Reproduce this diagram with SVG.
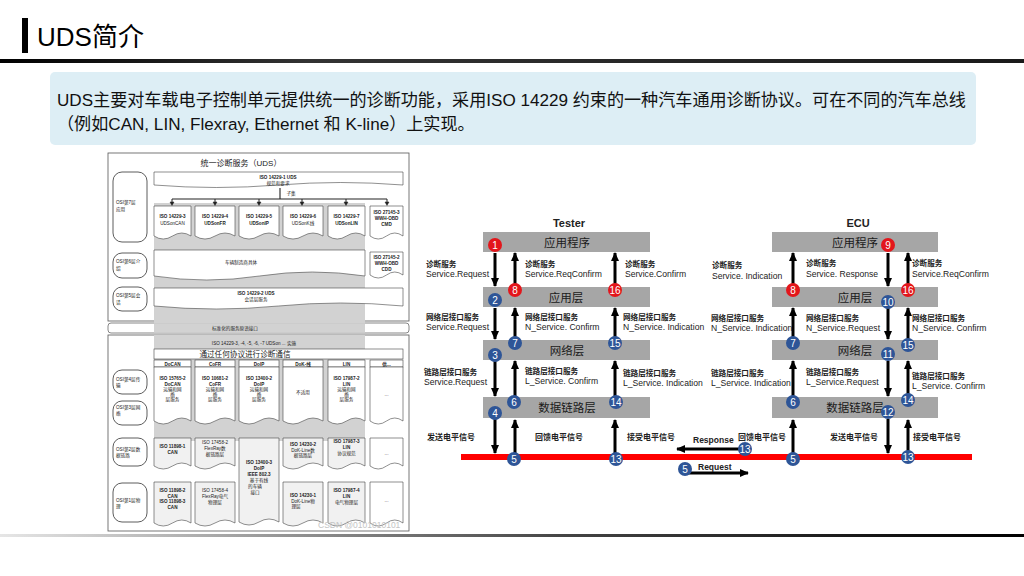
<svg xmlns="http://www.w3.org/2000/svg" width="1024" height="576" viewBox="0 0 1024 576">
<defs>
<linearGradient id="gTop" x1="0" y1="0" x2="1" y2="0"><stop offset="0" stop-color="#000"/><stop offset="0.3" stop-color="#333"/><stop offset="1" stop-color="#1a1a1a"/></linearGradient>
<linearGradient id="gBot" x1="0" y1="0" x2="1" y2="0"><stop offset="0" stop-color="#e6e6e6"/><stop offset="0.55" stop-color="#444"/><stop offset="1" stop-color="#000"/></linearGradient>
<marker id="ah" viewBox="0 0 10 10" refX="9" refY="5" markerWidth="9" markerHeight="9" markerUnits="userSpaceOnUse" orient="auto"><path d="M0,0.5 L10,5 L0,9.5 z" fill="#000"/></marker>
<style>
text{font-family:'Liberation Sans','Noto Sans CJK SC',sans-serif;}
.box{fill:#A6A6A6;}
.boxt{font-size:11.5px;fill:#1a1a1a;text-anchor:middle;}
.zh{font-size:7.6px;fill:#222;font-weight:bold;}
.en{font-size:8.6px;fill:#222;}
.sig{font-size:8px;fill:#222;font-weight:bold;}
.red{fill:#E3161B;}
.blue{fill:#2E5597;}
.num{font-size:10px;fill:#fff;text-anchor:middle;}
.arr{stroke:#000;stroke-width:3;fill:none;marker-end:url(#ah);}
.lt{font-size:4.6px;fill:#222;text-anchor:middle;}
.lb{font-weight:bold;}
.ll{font-size:4.6px;fill:#222;}
.doc{fill:#fff;stroke:#444;stroke-width:0.6;}
.docg{fill:#F1F1F1;stroke:#444;stroke-width:0.6;}
.osi{fill:#fff;stroke:#333;stroke-width:0.8;}
.grey{fill:#D2D2D2;}
.thin{stroke:#222;stroke-width:1.1;fill:none;}
</style>
</defs>
<rect width="1024" height="576" fill="#fff"/>

<g id="title">
<rect x="22" y="18" width="6" height="35" fill="#000"/>
<text x="37" y="46" font-size="26" fill="#000">UDS简介</text>
<rect x="0" y="59" width="1024" height="4" fill="url(#gTop)"/>
</g>

<g id="intro">
<rect x="50" y="72" width="926" height="73" rx="5" fill="#DDEEF5"/>
<text x="57" y="106" font-size="17.1" fill="#111">UDS主要对车载电子控制单元提供统一的诊断功能，采用ISO 14229 约束的一种汽车通用诊断协议。可在不同的汽车总线</text>
<text x="57" y="130" font-size="17.1" fill="#111">（例如CAN, LIN, Flexray, Ethernet 和 K-line）上实现。</text>
</g>

<g id="osi-figure">
<rect x="108" y="153" width="301" height="168" fill="#fff" stroke="#555" stroke-width="0.8"/>
<rect class="grey" x="154" y="203" width="211" height="120"/>
<text x="241" y="166" font-size="8" fill="#222" text-anchor="middle">统一诊断服务（UDS）</text>
<path class="doc" d="M154,172h249v13q-62.25,-5,-124.5,0t-124.5,0z"/>
<text class="lt lb" x="278" y="178.5">ISO 14229-1 UDS</text>
<text class="lt" x="278" y="184.5">规范和要求</text>
<path class="thin" d="M280,188V199M172,199H387"/>
<text class="lt" x="291" y="195">子集</text>
<g fill="#222" stroke="#222" stroke-width="1">
<path d="M172,199V202M215,199V202M259,199V202M302,199V202M346,199V202M387,199V202"/>
<path d="M170,202h4l-2,3.5zM213,202h4l-2,3.5zM257,202h4l-2,3.5zM300,202h4l-2,3.5zM344,202h4l-2,3.5zM385,202h4l-2,3.5z" stroke-width="0.5"/>
</g>
<path class="doc" d="M154,206h37v30q-9.25,-6,-18.5,0t-18.5,0z"/>
<path class="doc" d="M195,206h40v30q-10,-6,-20,0t-20,0z"/>
<path class="doc" d="M239,206h40v30q-10,-6,-20,0t-20,0z"/>
<path class="doc" d="M283,206h40v30q-10,-6,-20,0t-20,0z"/>
<path class="doc" d="M328,206h37v30q-9.25,-6,-18.5,0t-18.5,0z"/>
<path class="doc" d="M370,206h33v30q-8.25,-6,-16.5,0t-16.5,0z"/>
<text class="lt lb" x="172.5" y="218">ISO 14229-3</text><text class="lt" x="172.5" y="225">UDSonCAN</text>
<text class="lt lb" x="215" y="218">ISO 14229-4</text><text class="lt lb" x="215" y="225">UDSonFR</text>
<text class="lt lb" x="259" y="218">ISO 14229-5</text><text class="lt lb" x="259" y="225">UDSonIP</text>
<text class="lt lb" x="303" y="218">ISO 14229-6</text><text class="lt" x="303" y="225">UDSonK线</text>
<text class="lt lb" x="346.5" y="218">ISO 14229-7</text><text class="lt lb" x="346.5" y="225">UDSonLIN</text>
<text class="lt lb" x="386.5" y="214">ISO 27145-3</text><text class="lt lb" x="386.5" y="220">WWH-OBD</text><text class="lt lb" x="386.5" y="226">CMD</text>
<path class="doc" d="M154,250h211v26q-52.75,-8,-105.5,0t-105.5,0z"/>
<text class="lt" x="241" y="264">车辆制造商具体</text>
<path class="doc" d="M370,252h33v23q-8.25,-6,-16.5,0t-16.5,0z"/>
<text class="lt lb" x="386.5" y="259">ISO 27145-2</text><text class="lt lb" x="386.5" y="265">WWH-OBD</text><text class="lt lb" x="386.5" y="271">CDD</text>
<path class="doc" d="M154,288h249v18q-62.25,-6,-124.5,0t-124.5,0z"/>
<text class="lt lb" x="256" y="295">ISO 14229-2 UDS</text>
<text class="lt" x="256" y="301">会话层服务</text>
<rect class="osi" x="113" y="172" width="34" height="70" rx="9"/>
<text class="ll" x="116" y="204">OSI第7层</text><text class="ll" x="116" y="211">应用</text>
<rect class="osi" x="113" y="253" width="34" height="25" rx="9"/>
<text class="ll" x="116" y="263">OSI第6层介</text><text class="ll" x="116" y="270">绍</text>
<rect class="osi" x="113" y="287" width="34" height="24" rx="9"/>
<text class="ll" x="116" y="297">OSI第5层会</text><text class="ll" x="116" y="304">话</text>

<rect x="108" y="323" width="301" height="10" rx="3" fill="#fff" stroke="#555" stroke-width="0.7"/>
<rect class="grey" x="154" y="320" width="211" height="3"/>
<rect class="grey" x="154" y="323.4" width="211" height="9.2"/>
<text class="lt" x="235" y="330">标准化的服务原语接口</text>
<rect x="108" y="335" width="301" height="196" fill="#fff" stroke="#555" stroke-width="0.8"/>
<rect class="grey" x="154" y="335" width="211" height="106"/>
<text class="lt" x="254" y="344.5" font-size="4.2">ISO 14229-3, -4, -5, -6, -7 UDSon ... 实施</text>
<rect x="154" y="349" width="249" height="10" fill="#fff" stroke="#444" stroke-width="0.6"/>
<text x="245" y="357" font-size="7.6" fill="#222" text-anchor="middle">通过任何协议进行诊断通信</text>
<g>
<rect class="doc" x="154" y="360" width="37" height="7"/>
<rect class="doc" x="195" y="360" width="40" height="7"/>
<rect class="doc" x="239" y="360" width="40" height="7"/>
<rect class="doc" x="283" y="360" width="40" height="7"/>
<rect class="doc" x="328" y="360" width="37" height="7"/>
<rect class="doc" x="370" y="360" width="33" height="7"/>
<text class="lt lb" x="172.5" y="365.5" font-size="5.6">DoCAN</text>
<text class="lt lb" x="215" y="365.5" font-size="5.6">CoFR</text>
<text class="lt lb" x="259" y="365.5" font-size="5.6">DoIP</text>
<text class="lt lb" x="303" y="365.5" font-size="5.6">DoK-线</text>
<text class="lt lb" x="346.5" y="365.5" font-size="5.6">LIN</text>
<text class="lt lb" x="386.5" y="365.5" font-size="5.6">供...</text>
</g>
<path class="doc" d="M154,367h37v54q-9.25,-6,-18.5,0t-18.5,0z"/>
<path class="doc" d="M195,367h40v54q-10,-6,-20,0t-20,0z"/>
<path class="doc" d="M239,367h40v54q-10,-6,-20,0t-20,0z"/>
<path class="doc" d="M283,367h40v54q-10,-6,-20,0t-20,0z"/>
<path class="doc" d="M328,367h37v54q-9.25,-6,-18.5,0t-18.5,0z"/>
<path class="doc" d="M370,367h33v54q-8.25,-6,-16.5,0t-16.5,0z"/>
<text class="lt lb" x="172.5" y="380">ISO 15765-2</text><text class="lt lb" x="172.5" y="385.5">DoCAN</text><text class="lt" x="172.5" y="391">运输和网</text><text class="lt" x="172.5" y="396">络</text><text class="lt" x="172.5" y="401">层服务</text>
<text class="lt lb" x="215" y="380">ISO 10681-2</text><text class="lt lb" x="215" y="385.5">CoFR</text><text class="lt" x="215" y="391">运输和网</text><text class="lt" x="215" y="396">络</text><text class="lt" x="215" y="401">层服务</text>
<text class="lt lb" x="259" y="380">ISO 13400-2</text><text class="lt lb" x="259" y="385.5">DoIP</text><text class="lt" x="259" y="391">运输和网</text><text class="lt" x="259" y="396">络</text><text class="lt" x="259" y="401">层服务</text>
<text class="lt" x="303" y="394">不适用</text>
<text class="lt lb" x="346.5" y="380">ISO 17987-2</text><text class="lt lb" x="346.5" y="385.5">LIN</text><text class="lt" x="346.5" y="391">运输和网</text><text class="lt" x="346.5" y="396">络</text><text class="lt" x="346.5" y="401">层服务</text>
<text class="lt" x="386.5" y="396">...</text>
<path class="docg" d="M154,438h37v28q-9.25,-6,-18.5,0t-18.5,0z"/>
<path class="docg" d="M195,438h40v28q-10,-6,-20,0t-20,0z"/>
<path class="docg" d="M239,438h40v84q-10,-6,-20,0t-20,0z"/>
<path class="docg" d="M283,438h40v28q-10,-6,-20,0t-20,0z"/>
<path class="docg" d="M328,438h37v28q-9.25,-6,-18.5,0t-18.5,0z"/>
<path class="doc" d="M370,438h33v28q-8.25,-6,-16.5,0t-16.5,0z"/>
<text class="lt lb" x="172.5" y="448">ISO 11898-1</text><text class="lt lb" x="172.5" y="454">CAN</text>
<text class="lt" x="215" y="444">ISO 17458-2</text><text class="lt" x="215" y="450">FlexRay数</text><text class="lt" x="215" y="456">据链路层</text>
<text class="lt lb" x="259" y="464">ISO 13400-3</text><text class="lt lb" x="259" y="470">DoIP</text><text class="lt lb" x="259" y="476">IEEE 802.3</text><text class="lt" x="259" y="482">基于有线</text><text class="lt" x="255" y="488">的车辆</text><text class="lt" x="255" y="494">接口</text>
<text class="lt lb" x="303" y="446">ISO 14230-2</text><text class="lt" x="303" y="451.5">DoK-Line数</text><text class="lt" x="303" y="457">据链路层</text>
<text class="lt lb" x="346.5" y="443">ISO 17987-3</text><text class="lt lb" x="346.5" y="449">LIN</text><text class="lt" x="346.5" y="455">协议规范</text>
<text class="lt" x="386.5" y="455">...</text>
<path class="docg" d="M154,482h37v41q-9.25,-6,-18.5,0t-18.5,0z"/>
<path class="docg" d="M195,482h40v41q-10,-6,-20,0t-20,0z"/>
<path class="docg" d="M283,482h40v41q-10,-6,-20,0t-20,0z"/>
<path class="docg" d="M328,482h37v41q-9.25,-6,-18.5,0t-18.5,0z"/>
<path class="doc" d="M370,482h33v41q-8.25,-6,-16.5,0t-16.5,0z"/>
<text class="lt lb" x="172.5" y="492">ISO 11898-2</text><text class="lt lb" x="172.5" y="497.5">CAN</text><text class="lt lb" x="172.5" y="503">ISO 11898-3</text><text class="lt lb" x="172.5" y="508.5">CAN</text>
<text class="lt" x="215" y="492">ISO 17458-4</text><text class="lt" x="215" y="498">FlexRay电气</text><text class="lt" x="215" y="503.5">物理层</text>
<text class="lt lb" x="303" y="497">ISO 14230-1</text><text class="lt" x="303" y="502.5">DoK-Line物</text><text class="lt" x="296" y="508">理层</text>
<text class="lt lb" x="346.5" y="492">ISO 17987-4</text><text class="lt lb" x="346.5" y="498">LIN</text><text class="lt" x="346.5" y="503.5">电气物理层</text>
<text class="lt" x="386.5" y="502">...</text>
<rect class="osi" x="113" y="370" width="34" height="24" rx="9"/>
<text class="ll" x="116" y="381">OSI第4层传</text><text class="ll" x="116" y="387">输</text>
<rect class="osi" x="113" y="401" width="34" height="24" rx="9"/>
<text class="ll" x="116" y="409">OSI第3层网</text><text class="ll" x="116" y="415">络</text>
<rect class="osi" x="113" y="438" width="34" height="28" rx="9"/>
<text class="ll" x="116" y="451">OSI第2层数</text><text class="ll" x="116" y="457">据链路</text>
<rect class="osi" x="113" y="483" width="34" height="39" rx="9"/>
<text class="ll" x="116" y="502">OSI第1层物</text><text class="ll" x="116" y="508">理</text>
<text x="318" y="528" font-size="8.5" fill="#c4c4c4">CSDN @0101010101</text>
</g>

<g id="tester">
<text x="569" y="227" font-size="11" font-weight="bold" fill="#222" text-anchor="middle">Tester</text>
<rect class="box" x="483" y="232" width="167" height="20"/><text class="boxt" x="567" y="247">应用程序</text>
<rect class="box" x="483" y="287" width="167" height="20"/><text class="boxt" x="566" y="302">应用层</text>
<rect class="box" x="483" y="340" width="167" height="20"/><text class="boxt" x="567" y="355">网络层</text>
<rect class="box" x="483" y="397" width="167" height="21"/><text class="boxt" x="567" y="412">数据链路层</text>
</g>

<g id="ecu">
<text x="858" y="227" font-size="11" font-weight="bold" fill="#222" text-anchor="middle">ECU</text>
<rect class="box" x="772" y="232" width="166" height="20"/><text class="boxt" x="855" y="247">应用程序</text>
<rect class="box" x="772" y="287" width="166" height="20"/><text class="boxt" x="855" y="302">应用层</text>
<rect class="box" x="772" y="340" width="166" height="20"/><text class="boxt" x="855" y="355">网络层</text>
<rect class="box" x="772" y="397" width="166" height="21"/><text class="boxt" x="855" y="412">数据链路层</text>
</g>

<g id="bus">
<rect x="461" y="454" width="511" height="6" fill="#FF0000"/>
</g>

<g id="connectors">
<line class="arr" x1="495" y1="253" x2="495" y2="286"/>
<line class="arr" x1="515" y1="286" x2="515" y2="253"/>
<line class="arr" x1="615" y1="286" x2="615" y2="253"/>
<line class="arr" x1="495" y1="308" x2="495" y2="339"/>
<line class="arr" x1="515" y1="340" x2="515" y2="308"/>
<line class="arr" x1="615" y1="340" x2="615" y2="308"/>
<line class="arr" x1="495" y1="361" x2="495" y2="396"/>
<line class="arr" x1="515" y1="397" x2="515" y2="361"/>
<line class="arr" x1="615" y1="397" x2="615" y2="361"/>
<line class="arr" x1="495" y1="419" x2="495" y2="453"/>
<line class="arr" x1="515" y1="455" x2="515" y2="420"/>
<line class="arr" x1="615" y1="455" x2="615" y2="420"/>
<line class="arr" x1="793" y1="287" x2="793" y2="253"/>
<line class="arr" x1="888" y1="253" x2="888" y2="286"/>
<line class="arr" x1="908" y1="287" x2="908" y2="253"/>
<line class="arr" x1="793" y1="340" x2="793" y2="308"/>
<line class="arr" x1="888" y1="308" x2="888" y2="339"/>
<line class="arr" x1="908" y1="340" x2="908" y2="308"/>
<line class="arr" x1="793" y1="397" x2="793" y2="361"/>
<line class="arr" x1="888" y1="361" x2="888" y2="396"/>
<line class="arr" x1="908" y1="397" x2="908" y2="361"/>
<line class="arr" x1="793" y1="455" x2="793" y2="420"/>
<line class="arr" x1="888" y1="419" x2="888" y2="453"/>
<line class="arr" x1="908" y1="455" x2="908" y2="420"/>
<line class="arr" x1="745" y1="449" x2="677" y2="449"/>
<line class="arr" x1="685" y1="473" x2="748" y2="473"/>
</g>

<g id="labels">
<text class="zh" x="426" y="267">诊断服务</text><text class="en" x="426" y="277">Service.Request</text>
<text class="zh" x="525" y="267">诊断服务</text><text class="en" x="525" y="277">Service.ReqConfirm</text>
<text class="zh" x="625" y="267">诊断服务</text><text class="en" x="625" y="277">Service.Confirm</text>
<text class="zh" x="426" y="320">网络层接口服务</text><text class="en" x="426" y="330">Service.Request</text>
<text class="zh" x="525" y="320">网络层接口服务</text><text class="en" x="525" y="330">N_Service. Confirm</text>
<text class="zh" x="623" y="320">网络层接口服务</text><text class="en" x="623" y="330">N_Service. Indication</text>
<text class="zh" x="424" y="375">链路层接口服务</text><text class="en" x="424" y="385">Service.Request</text>
<text class="zh" x="525" y="374">链路层接口服务</text><text class="en" x="525" y="384">L_Service. Confirm</text>
<text class="zh" x="623" y="376">链路层接口服务</text><text class="en" x="623" y="386">L_Service. Indication</text>
<text class="sig" x="427" y="440">发送电平信号</text>
<text class="sig" x="535" y="440">回馈电平信号</text>
<text class="sig" x="627" y="440">接受电平信号</text>
<text class="zh" x="712" y="268">诊断服务</text><text class="en" x="712" y="279">Service. Indication</text>
<text class="zh" x="806" y="266">诊断服务</text><text class="en" x="806" y="277">Service. Response</text>
<text class="zh" x="912" y="266">诊断服务</text><text class="en" x="912" y="277">Service.ReqConfirm</text>
<text class="zh" x="711" y="321">网络层接口服务</text><text class="en" x="711" y="331">N_Service. Indication</text>
<text class="zh" x="806" y="321">网络层接口服务</text><text class="en" x="806" y="331">N_Service.Request</text>
<text class="zh" x="912" y="321">网络层接口服务</text><text class="en" x="912" y="331">N_Service. Confirm</text>
<text class="zh" x="711" y="376">链路层接口服务</text><text class="en" x="711" y="386">L_Service. Indication</text>
<text class="zh" x="806" y="375">链路层接口服务</text><text class="en" x="806" y="385">L_Service.Request</text>
<text class="zh" x="912" y="379">链路层接口服务</text><text class="en" x="912" y="389">L_Service. Confirm</text>
<text class="sig" x="738" y="440">回馈电平信号</text>
<text class="sig" x="830" y="440">发送电平信号</text>
<text class="sig" x="913" y="440">接受电平信号</text>
<text x="693" y="443" font-size="8.5" font-weight="bold" fill="#222">Response</text>
<text x="698" y="470" font-size="8.5" font-weight="bold" fill="#222">Request</text>
</g>

<g id="steps">
<g id="t1"><circle class="red" cx="495" cy="245" r="7"/><text class="num" x="495" y="248.5">1</text></g>
<g id="t8"><circle class="red" cx="515" cy="290" r="7"/><text class="num" x="515" y="293.5">8</text></g>
<g id="t16"><circle class="red" cx="615" cy="290" r="7"/><text class="num" x="615" y="293.5">16</text></g>
<g id="t2"><circle class="blue" cx="495" cy="300" r="7"/><text class="num" x="495" y="303.5">2</text></g>
<g id="t7"><circle class="blue" cx="515" cy="343" r="7"/><text class="num" x="515" y="346.5">7</text></g>
<g id="t15"><circle class="blue" cx="615" cy="343" r="7"/><text class="num" x="615" y="346.5">15</text></g>
<g id="t3"><circle class="blue" cx="495" cy="355" r="7"/><text class="num" x="495" y="358.5">3</text></g>
<g id="t6"><circle class="blue" cx="514" cy="402" r="7"/><text class="num" x="514" y="405.5">6</text></g>
<g id="t14"><circle class="blue" cx="616" cy="402" r="7"/><text class="num" x="616" y="405.5">14</text></g>
<g id="t4"><circle class="blue" cx="495" cy="413" r="7"/><text class="num" x="495" y="416.5">4</text></g>
<g id="t5"><circle class="blue" cx="514" cy="459" r="7"/><text class="num" x="514" y="462.5">5</text></g>
<g id="t13"><circle class="blue" cx="616" cy="459" r="7"/><text class="num" x="616" y="462.5">13</text></g>
<g id="e9"><circle class="red" cx="888" cy="245" r="7"/><text class="num" x="888" y="248.5">9</text></g>
<g id="e8"><circle class="red" cx="793" cy="290" r="7"/><text class="num" x="793" y="293.5">8</text></g>
<g id="e16"><circle class="red" cx="908" cy="290" r="7"/><text class="num" x="908" y="293.5">16</text></g>
<g id="e10"><circle class="blue" cx="888" cy="302" r="7"/><text class="num" x="888" y="305.5">10</text></g>
<g id="e7"><circle class="blue" cx="793" cy="343" r="7"/><text class="num" x="793" y="346.5">7</text></g>
<g id="e15"><circle class="blue" cx="908" cy="345" r="7"/><text class="num" x="908" y="348.5">15</text></g>
<g id="e11"><circle class="blue" cx="888" cy="354" r="7"/><text class="num" x="888" y="357.5">11</text></g>
<g id="e6"><circle class="blue" cx="793" cy="402" r="7"/><text class="num" x="793" y="405.5">6</text></g>
<g id="e14"><circle class="blue" cx="908" cy="400" r="7"/><text class="num" x="908" y="403.5">14</text></g>
<g id="e12"><circle class="blue" cx="888" cy="412" r="7"/><text class="num" x="888" y="415.5">12</text></g>
<g id="e5"><circle class="blue" cx="793" cy="459" r="7"/><text class="num" x="793" y="462.5">5</text></g>
<g id="e13"><circle class="blue" cx="908" cy="457" r="7"/><text class="num" x="908" y="460.5">13</text></g>
<g id="m13"><circle class="blue" cx="745" cy="449" r="7"/><text class="num" x="745" y="452.5">13</text></g>
<g id="m5"><circle class="blue" cx="685" cy="469" r="7"/><text class="num" x="685" y="472.5">5</text></g>
</g>

<g id="footer">
<rect x="0" y="534" width="1024" height="3" fill="url(#gBot)"/>
</g>
</svg>
